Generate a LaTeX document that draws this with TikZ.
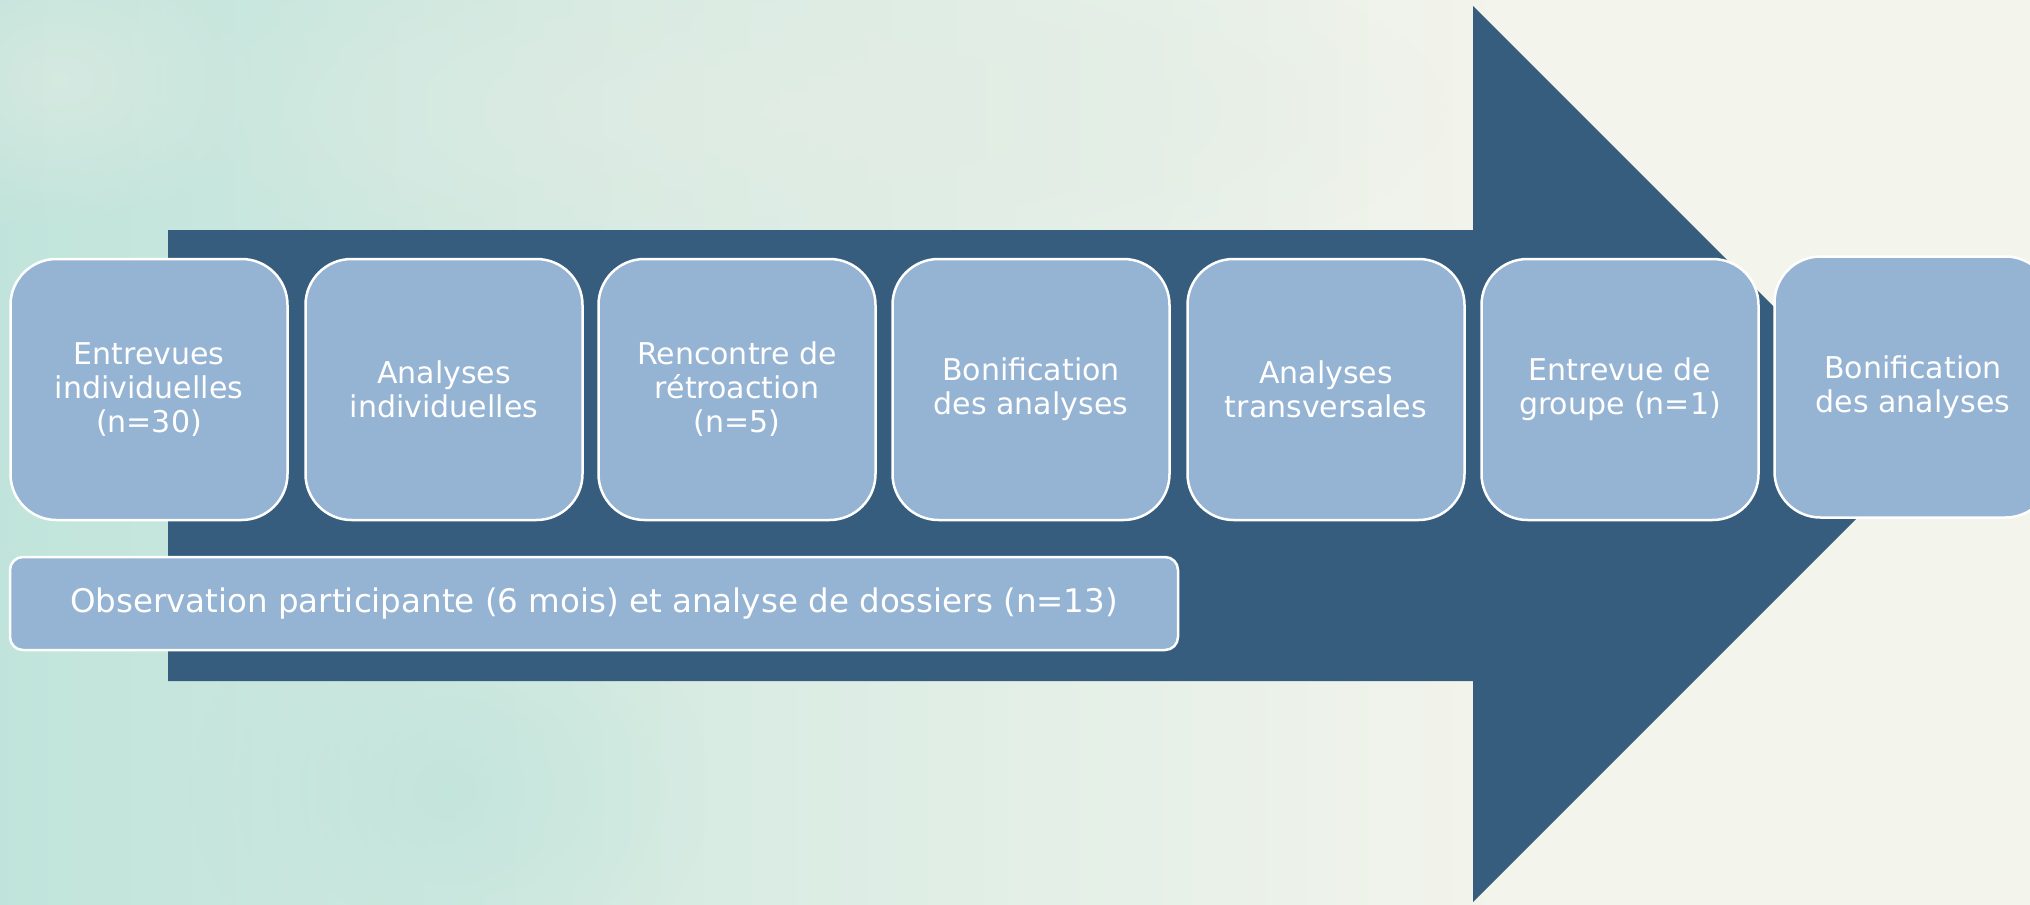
\documentclass[tikz,border=0pt]{standalone}
\usepackage{fontspec}
\setmainfont{DejaVu Sans}
\usepackage{xcolor}
\usetikzlibrary{fadings}
\definecolor{arrowblue}{RGB}{54,93,126}
\definecolor{boxblue}{RGB}{149,179,211}
\definecolor{bgleft}{RGB}{192,228,219}
\definecolor{bgright}{RGB}{243,244,236}
\definecolor{bgpale}{RGB}{226,236,228}
\tikzfading[name=flou,inner color=transparent!0,outer color=transparent!100]

\begin{document}
\begin{tikzpicture}[line cap=round,line join=round,x=1pt,y=-1pt,
        etape/.style={draw=white,line width=2.5pt,fill=boxblue,text=white,rounded corners=46pt,
            minimum width=277pt,minimum height=261pt,inner sep=0pt,align=center,
            font=\fontsize{30}{34}\selectfont},
        bande/.style={etape,rounded corners=13pt,minimum width=1168pt,minimum height=93pt,
            font=\fontsize{32.5}{36}\selectfont}]
                \useasboundingbox (0,0) rectangle (2030,905);
                % fond
                \fill [bgright] (0,0) rectangle (2030,905);
                \shade [left color=bgleft,right color=bgright] (0,0) rectangle (1500,905);
                \fill [bgpale,opacity=0.8,path fading=flou] (800,110) ellipse (650 and 200);
                \fill [bgleft,opacity=0.7,path fading=flou] (450,790) ellipse (260 and 220);
                \fill [bgpale,opacity=0.6,path fading=flou] (60,80) ellipse (200 and 150);
                % grande fleche
                \fill [arrowblue] (168,230) -- (1473,230) -- (1473,6) -- (1921,454) -- (1473,902) -- (1473,681) -- (168,681) -- cycle;
                % etapes
                \node [etape] (entrevues) at (149,389.5) {Entrevues\\individuelles\\(n=30)};
                \node [etape] (analyses) at (444,389.5) {Analyses\\individuelles};
                \node [etape] (rencontre) at (737,389.5) {Rencontre de\\rétroaction\\(n=5)};
                \node [etape] (bonif) at (1031,389.5) {Bonification\\des analyses};
                \node [etape] (transv) at (1326,389.5) {Analyses\\transversales};
                \node [etape] (groupe) at (1620,389.5) {Entrevue de\\groupe (n=1)};
                \node [etape] (bonifdeux) at (1913,387) {Bonification\\des analyses};
                % observation
                \node [bande] (observation) at (594,603.5) {Observation participante (6 mois) et analyse de dossiers (n=13)};
            \end{tikzpicture}
\end{document}
